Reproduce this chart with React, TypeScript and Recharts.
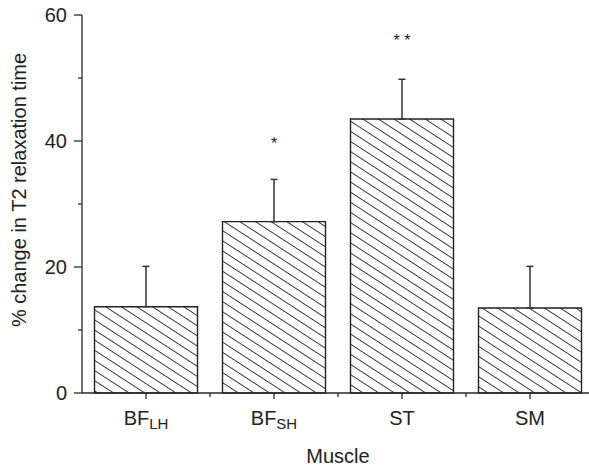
import { Bar, ComposedChart, ErrorBar, Label, Scatter, XAxis, YAxis } from "recharts";

// muscle names are split into the main part and the subscript
const muscleMain = ["BF", "BF", "ST", "SM"];
const muscleSub = ["LH", "SH", "", ""];
const meanChange = [13.7, 27.2, 43.5, 13.5];
const sdChange = [6.4, 6.7, 6.3, 6.6];
const significance = ["", "*", "* *", ""];
const markLevel = [null, 40, 56.3, null];
const yTicks = [0, 10, 20, 30, 40, 50, 60];
const yLabels = [0, 20, 40, 60];

const data = muscleMain.map((m, i) => ({
  name: m + muscleSub[i],
  main: m,
  sub: muscleSub[i],
  mean: meanChange[i],
  err: [0, sdChange[i]],
  sig: significance[i],
  markY: markLevel[i],
}));

const W = 600;
const H = 468;
const M = { top: 15, right: 6, bottom: 0, left: 0 };
const Y_W = 82;
const X_H = 75;
const band = (W - M.left - M.right - Y_W) / data.length;

const FONT = "'Liberation Sans', Arial, Helvetica, sans-serif";
const INK = "#2a2a2a";

function YTick(props: any) {
  const { x, y, payload } = props;
  const axisX = x + 8;
  const major = yLabels.includes(payload.value);
  return (
    <g>
      <line x1={axisX - (major ? 8 : 4)} x2={axisX} y1={y} y2={y} stroke={INK} strokeWidth={1.3} />
      {major && (
        <text x={axisX - 15} y={y} dy="0.36em" textAnchor="end" fontSize={20} fill="#222" fontFamily={FONT}>
          {payload.value}
        </text>
      )}
    </g>
  );
}

function XTick(props: any) {
  const { x, y, index } = props;
  const axisY = y - 6;
  const d = data[index];
  return (
    <g>
      <line x1={x} x2={x} y1={axisY} y2={axisY + 6} stroke={INK} strokeWidth={1.3} />
      {index > 0 && (
        <line x1={x - band / 2} x2={x - band / 2} y1={axisY} y2={axisY + 4} stroke={INK} strokeWidth={1.3} />
      )}
      <text x={x} y={axisY + 32} textAnchor="middle" fontSize={20} fill="#222" fontFamily={FONT}>
        <tspan>{d ? d.main : ""}</tspan>
        {d && d.sub && (
          <tspan fontSize={15} dy={4}>
            {d.sub}
          </tspan>
        )}
      </text>
    </g>
  );
}

function SigMark(props: any) {
  const { cx, cy, payload } = props;
  if (!payload || !payload.sig || cy == null || isNaN(cy)) return <g />;
  return (
    <text x={cx} y={cy} dy={8} textAnchor="middle" fontSize={16} fill="#222" fontFamily={FONT}>
      {payload.sig}
    </text>
  );
}

export default function App() {
  return (
    <div style={{ position: "absolute", left: 0, top: 0, width: 589, height: 468, overflow: "hidden", background: "#fff" }}>
      <ComposedChart width={W} height={H} data={data} margin={M} barCategoryGap={12.5}>
        <defs>
          <pattern id="hatch" patternUnits="userSpaceOnUse" width={8.5} height={8.5} patternTransform="rotate(33)">
            <rect width={8.5} height={8.5} fill="#fff" />
            <line x1={0} y1={4.25} x2={8.5} y2={4.25} stroke="#333" strokeWidth={1} />
          </pattern>
        </defs>
        <XAxis
          dataKey="name"
          height={X_H}
          tickLine={false}
          tickSize={6}
          tickMargin={0}
          axisLine={{ stroke: INK, strokeWidth: 1.3 }}
          tick={<XTick />}
          interval={0}
        >
          <Label
            content={(p: any) => {
              const vb = p.viewBox || {};
              return (
                <text x={vb.x + vb.width / 2} y={463} textAnchor="middle" fontSize={20} fill="#222" fontFamily={FONT}>
                  Muscle
                </text>
              );
            }}
          />
        </XAxis>
        <YAxis
          width={Y_W}
          domain={[0, 60]}
          ticks={yTicks}
          interval={0}
          tickLine={false}
          tickSize={8}
          tickMargin={0}
          axisLine={{ stroke: INK, strokeWidth: 1.3 }}
          tick={<YTick />}
        >
          <Label
            content={() => (
              <text
                transform="translate(19,190) rotate(-90)"
                textAnchor="middle"
                dominantBaseline="central"
                fontSize={20}
                fill="#222"
                fontFamily={FONT}
              >
                % change in T2 relaxation time
              </text>
            )}
          />
        </YAxis>
        <Bar dataKey="mean" fill="url(#hatch)" stroke="#222" strokeWidth={1.4} isAnimationActive={false}>
          <ErrorBar dataKey="err" direction="y" width={3.5} stroke="#333" strokeWidth={1.5} />
        </Bar>
        <Scatter dataKey="markY" shape={<SigMark />} isAnimationActive={false} />
      </ComposedChart>
    </div>
  );
}
